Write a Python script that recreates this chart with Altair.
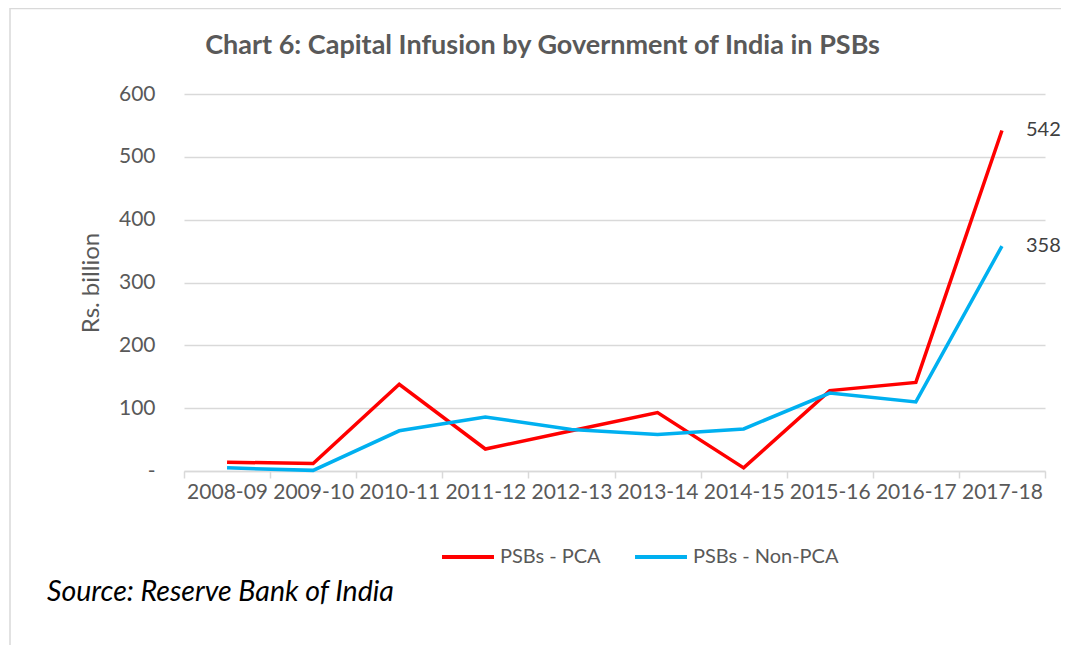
import altair as alt
import pandas as pd

years = ["2008-09", "2009-10", "2010-11", "2011-12", "2012-13",
         "2013-14", "2014-15", "2015-16", "2016-17", "2017-18"]
pca = [14, 12, 138, 35, 64, 93, 5, 128, 141, 542]
non_pca = [5, 1, 64, 86, 66, 58, 67, 124, 110, 358]
series = ["PSBs - PCA", "PSBs - Non-PCA"]
colors = ["#FF0000", "#00B0F0"]
y_ticks = [0, 100, 200, 300, 400, 500, 600]
source_text = "Source: Reserve Bank of India"
title_text = "Chart 6: Capital Infusion by Government of India in PSBs"

rows = []
for y, a, b in zip(years, pca, non_pca):
    rows.append({"year": y, "series": series[0], "value": a})
    rows.append({"year": y, "series": series[1], "value": b})
df = pd.DataFrame(rows)
last = df[df["year"] == years[-1]]
src = pd.DataFrame({"t": [source_text]})
FONT = "Lato"
GRID = "#d9d9d9"

x_enc = alt.X("year:N", sort=years, title=None,
              scale=alt.Scale(paddingInner=0, paddingOuter=0),
              axis=alt.Axis(labelAngle=0, tickBand="extent", domainColor=GRID,
                            domainWidth=1.5, tickColor=GRID, tickWidth=1.5,
                            tickSize=7, labelPadding=3, labelFontSize=21,
                            labelColor="#595959", labelFont=FONT, grid=False))
y_enc = alt.Y("value:Q", title="Rs. billion",
              scale=alt.Scale(domain=[0, 600], nice=False),
              axis=alt.Axis(values=y_ticks, domain=False, ticks=False,
                            grid=True, gridColor=GRID, gridWidth=1.5,
                            labelPadding=29, labelFontSize=21, labelColor="#595959",
                            labelFont=FONT,
                            labelExpr="datum.value == 0 ? '-' : datum.label",
                            titleFont=FONT, titleFontSize=24, titleFontWeight="normal",
                            titleColor="#595959", titlePadding=15))
color_enc = alt.Color("series:N", sort=series,
                      scale=alt.Scale(domain=series, range=colors),
                      legend=alt.Legend(title=None, orient="none", direction="horizontal",
                                        legendX=256, legendY=435,
                                        symbolType="stroke", symbolSize=2700,
                                        symbolStrokeWidth=4, labelFont=FONT,
                                        labelFontSize=20, labelColor="#595959",
                                        columnPadding=26, labelOffset=4))

lines = alt.Chart(df).mark_line(strokeWidth=3.5).encode(x=x_enc, y=y_enc, color=color_enc)

labels = alt.Chart(last).mark_text(align="left", baseline="middle", dx=24,
                                   fontSize=20, font=FONT, color="#404040").encode(
    x=alt.X("year:N", sort=years), y="value:Q", text="value:Q")

source = alt.Chart(src).mark_text(align="left", baseline="middle", fontSize=28.5,
                                  font=FONT, fontStyle="italic", color="#000000").encode(
    x=alt.value(-137), y=alt.value(498), text="t:N")

border_left = alt.Chart(src).mark_rule(color=GRID, strokeWidth=1.5).encode(
    x=alt.value(-174), y=alt.value(-86), y2=alt.value(560))
border_top = alt.Chart(src).mark_rule(color=GRID, strokeWidth=1.5).encode(
    x=alt.value(-174), x2=alt.value(880), y=alt.value(-85.5))

chart = alt.layer(border_left, border_top, lines, labels, source).properties(
    width=861, height=377,
    autosize=alt.AutoSizeParams(type="none"),
    padding={"left": 176, "top": 86, "right": 16, "bottom": 174},
    title=alt.TitleParams(title_text, anchor="middle", frame="group", dx=-72,
                          font=FONT, fontSize=27, fontWeight="bold",
                          color="#595959", baseline="alphabetic", offset=-74),
).configure_view(stroke=None)

chart.save("out.html", embed_options={"renderer": "svg", "actions": False})
